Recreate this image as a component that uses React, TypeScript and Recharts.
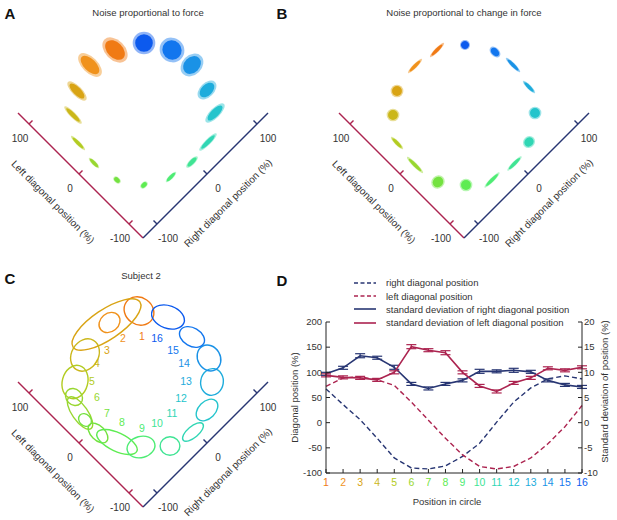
import React from 'react'
import {
  ScatterChart,
  Scatter,
  XAxis,
  YAxis,
  ReferenceLine,
  LineChart,
  Line,
  ErrorBar,
} from 'recharts'

const FONT = '"Liberation Sans", Arial, Helvetica, sans-serif'
const INK = '#333333'
const CRIMSON = '#ac2450'
const NAVY = '#283673'

// one colour per target position, orange -> yellow -> green -> cyan -> blue
const posColors = [
  '#f07a14', '#f0921c', '#d9a414', '#cbb71a', '#b3cc22', '#98d730', '#74e240', '#5eec52',
  '#4eec74', '#40e494', '#30d6b4', '#24c4cc', '#1eacdc', '#1a92e6', '#1276ee', '#0c5aee',
]

// A: noise proportional to force (centre and spread, diagonal %)
const forceRight = [32, -8, -47, -75, -98, -102, -96, -74, -39, -3, 33, 69, 84, 94, 89, 68]
const forceLeft = [88, 98, 85, 65, 32, -4, -44, -76, -95, -101, -97, -75, -44, -4, 31, 66]
const forceSdRight = [14, 11, 7, 4, 3, 3, 4, 6, 10, 11, 17, 18, 16, 18, 17, 16]
const forceSdLeft = [21, 21, 18, 17, 14, 10, 6, 4, 3, 4, 4, 7, 10, 14, 18, 16]

// B: noise proportional to change in force
const changeRight = [33, -5, -48, -76, -100, -104, -98, -73, -42, -3, 33, 68, 88, 94, 89, 66]
const changeLeft = [87, 93, 86, 66, 34, -6, -46, -77, -98, -104, -97, -74, -42, -4, 27, 64]
const changeSdRight = [14, 14, 9, 9, 3, 3, 10, 9, 15, 14, 9, 9, 3, 3, 6, 7]
const changeSdLeft = [3, 3, 9, 9, 12, 16, 9, 9, 3, 3, 8, 9, 12, 14, 9, 7]

// C: subject 2 confidence ellipses
const subjRight = [64, 23, 18, -34, -71, -87, -97, -99, -99, -89, -70, -40, -3, 33, 66, 87, 91, 87]
const subjLeft = [72, 90, 91, 82, 65, 51, 29, 17, -9, -37, -66, -94, -103, -95, -72, -45, -7, 37]
const subjMajor = [22, 16, 57, 24, 24, 13, 27, 10, 17, 31, 20, 14, 18, 18, 19, 19, 19, 24]
const subjMinor = [19, 13, 21, 19, 18, 11, 11, 8, 10, 13, 15, 13, 8, 12, 16, 16, 13, 16]
const subjAngle = [35, -40, -34, -60, -75, 45, 55, 45, 45, 25, -15, 0, -40, -45, -80, 60, 30, 20]
const subjColor = [0, 1, 2, 3, 4, 5, 5, 6, 6, 7, 8, 9, 10, 11, 12, 13, 14, 15]

// C: position numbers
const numRight = [42, 21, -7, -30, -53, -64, -70, -64, -50, -30, -5, 19, 41, 57, 59, 55]
const numLeft = [44, 61, 65, 62, 49, 28, 2, -22, -48, -58, -63, -57, -45, -25, -1, 27]

const diagTicks = [-100, 0, 100]
const AXIS_MIN = -128
const AXIS_MAX = 122

// D: mean positions and their standard deviations
const positions = ['1', '2', '3', '4', '5', '6', '7', '8', '9', '10', '11', '12', '13', '14', '15', '16']
const rightDiag = [67, 36, 6, -31, -70, -90, -92, -86, -67, -41, 1, 41, 69, 87, 93, 87]
const leftDiag = [72, 89, 91, 85, 74, 41, 5, -31, -64, -87, -92, -87, -70, -42, -8, 34]
const sdRight = [9.7, 10.9, 13.3, 12.9, 11.0, 7.7, 6.8, 7.7, 8.4, 10.2, 10.2, 10.4, 10.1, 8.4, 7.5, 7.1]
const sdLeft = [9.4, 9.0, 8.9, 8.5, 10.0, 15.1, 14.4, 13.9, 10.0, 7.3, 6.2, 7.9, 8.9, 10.8, 10.4, 11.0]
const sdRightErr = [0.3, 0.3, 0.4, 0.3, 0.4, 0.3, 0.3, 0.3, 0.3, 0.4, 0.3, 0.4, 0.3, 0.3, 0.3, 0.3]
const sdLeftErr = [0.3, 0.3, 0.3, 0.3, 0.3, 0.4, 0.3, 0.4, 0.3, 0.3, 0.3, 0.3, 0.3, 0.3, 0.3, 0.3]

const posTicks = [-100, -50, 0, 50, 100, 150, 200]
const sdTicks = [-10, -5, 0, 5, 10, 15, 20]

const legendItems = [
  { label: 'right diagonal position', color: NAVY, dash: '4 2.5' },
  { label: 'left diagonal position', color: CRIMSON, dash: '4 2.5' },
  { label: 'standard deviation of right diagonal position', color: NAVY, dash: undefined },
  { label: 'standard deviation of left diagonal position', color: CRIMSON, dash: undefined },
]

// diagonal (right, left) -> screen-aligned (u, v)
const uv = (r: number, l: number) => ({ u: r - l, v: r + l })
const pt = (r: number, l: number) => ({ x: r - l, y: r + l })

const textShape = (fontSize: number, rotate = 0, colorOf?: (p: any) => string) => (props: any) => {
  const { cx, cy, payload } = props
  return (
    <text
      x={cx}
      y={cy}
      dy="0.35em"
      textAnchor="middle"
      fontSize={fontSize}
      fontFamily={FONT}
      fill={colorOf ? colorOf(payload) : INK}
      transform={rotate ? `rotate(${rotate} ${cx} ${cy})` : undefined}
    >
      {payload.text}
    </text>
  )
}

// cloud of samples drawn as a filled ellipse along the two diagonal axes
const cloudShape = (k: number) => (props: any) => {
  const { cx, cy, payload } = props
  const color = posColors[payload.i]
  const rot = `rotate(-45 ${cx} ${cy})`
  return (
    <g>
      <ellipse cx={cx} cy={cy} rx={payload.sdR * k} ry={payload.sdL * k} fill={color} fillOpacity={0.45} transform={rot} />
      <ellipse cx={cx} cy={cy} rx={payload.sdR * k * 0.78} ry={payload.sdL * k * 0.78} fill={color} transform={rot} />
    </g>
  )
}

const ellipseShape = (k: number) => (props: any) => {
  const { cx, cy, payload } = props
  return (
    <ellipse
      cx={cx}
      cy={cy}
      rx={payload.a * k}
      ry={payload.b * k}
      fill="none"
      stroke={posColors[payload.c]}
      strokeWidth={1.4}
      transform={`rotate(${payload.angle} ${cx} ${cy})`}
    />
  )
}

// the two diagonal axes with ticks, tick labels and titles
function diagonalFrame(id: string) {
  const leftTickLabels = diagTicks.map((t) => ({ ...uv(-151, t - 5), text: String(t) }))
  const rightTickLabels = diagTicks.map((t) => ({ ...uv(t - 3, -153), text: String(t) }))
  return [
    <ReferenceLine key={id + 'la'} segment={[pt(AXIS_MIN, AXIS_MIN), pt(AXIS_MIN, AXIS_MAX)]} stroke={CRIMSON} strokeWidth={1.4} ifOverflow="visible" />,
    <ReferenceLine key={id + 'ra'} segment={[pt(AXIS_MIN, AXIS_MIN), pt(AXIS_MAX, AXIS_MIN)]} stroke={NAVY} strokeWidth={1.4} ifOverflow="visible" />,
    ...diagTicks.map((t) => (
      <ReferenceLine key={id + 'lt' + t} segment={[pt(AXIS_MIN, t), pt(AXIS_MIN + 7, t)]} stroke={CRIMSON} strokeWidth={1.4} ifOverflow="visible" />
    )),
    ...diagTicks.map((t) => (
      <ReferenceLine key={id + 'rt' + t} segment={[pt(t, AXIS_MIN), pt(t, AXIS_MIN + 7)]} stroke={NAVY} strokeWidth={1.4} ifOverflow="visible" />
    )),
    <Scatter key={id + 'ltl'} data={leftTickLabels} dataKey="v" shape={textShape(10)} isAnimationActive={false} />,
    <Scatter key={id + 'rtl'} data={rightTickLabels} dataKey="v" shape={textShape(10)} isAnimationActive={false} />,
    <Scatter key={id + 'lti'} data={[{ ...uv(-182, -2), text: 'Left diagonal position (%)' }]} dataKey="v" shape={textShape(10, 45)} isAnimationActive={false} />,
    <Scatter key={id + 'rti'} data={[{ ...uv(-8, -178), text: 'Right diagonal position (%)' }]} dataKey="v" shape={textShape(10, -45)} isAnimationActive={false} />,
  ]
}

function DiagonalChart({ width, height, originX, originY, children }: any) {
  const uDomain = [-2 * originX, 2 * (width - originX)]
  const vDomain = [2 * (originY - height), 2 * originY]
  return (
    <ScatterChart width={width} height={height} margin={{ top: 0, right: 0, bottom: 0, left: 0 }}>
      <XAxis type="number" dataKey="u" domain={uDomain} hide allowDataOverflow />
      <YAxis type="number" dataKey="v" domain={vDomain} hide allowDataOverflow />
      {children}
    </ScatterChart>
  )
}

// pixels per diagonal % unit (0.5 px per u unit, rotated 45 degrees)
const K = 0.5 * Math.SQRT2

const forceData = forceRight.map((r, i) => ({ ...uv(r, forceLeft[i]), sdR: forceSdRight[i], sdL: forceSdLeft[i], i }))
const changeData = changeRight.map((r, i) => ({ ...uv(r, changeLeft[i]), sdR: changeSdRight[i], sdL: changeSdLeft[i], i }))
const subjData = subjRight.map((r, i) => ({
  ...uv(r, subjLeft[i]),
  a: subjMajor[i],
  b: subjMinor[i],
  angle: subjAngle[i],
  c: subjColor[i],
}))
const numData = numRight.map((r, i) => ({ ...uv(r, numLeft[i]), text: String(i + 1), i }))

const lineData = positions.map((p, i) => ({
  pos: p,
  right: rightDiag[i],
  left: leftDiag[i],
  sdR: sdRight[i],
  sdL: sdLeft[i],
  sdRErr: sdRightErr[i],
  sdLErr: sdLeftErr[i],
}))

const LeftTick = ({ x, y, payload }: any) => (
  <g>
    <line x1={x + 4} x2={x + 8} y1={y} y2={y} stroke="#222" />
    <text x={x} y={y} dy="0.35em" textAnchor="end" fontSize={9.5} fontFamily={FONT} fill={INK}>
      {payload.value}
    </text>
  </g>
)

const RightTick = ({ x, y, payload }: any) => (
  <g>
    <line x1={x - 2} x2={x - 6} y1={y} y2={y} stroke="#222" />
    <text x={x} y={y} dy="0.35em" textAnchor="start" fontSize={9.5} fontFamily={FONT} fill={INK}>
      {payload.value}
    </text>
  </g>
)

const BottomTick = ({ x, y, payload, index }: any) => (
  <g>
    <line x1={x} x2={x} y1={y - 5} y2={y - 9} stroke="#222" />
    <text x={x} y={y} dy="0.8em" textAnchor="middle" fontSize={10.5} fontFamily={FONT} fill={posColors[index]}>
      {payload.value}
    </text>
  </g>
)

const axisTitle = (text: string, dx: number, dyPx: number, rotate: number, vertical: boolean) => (props: any) => {
  const vb = props.viewBox
  const x = vertical ? vb.x + dx : vb.x + vb.width / 2 + dx
  const y = vertical ? vb.y + vb.height / 2 + dyPx : vb.y + dyPx
  return (
    <text
      x={x}
      y={y}
      dy="0.35em"
      textAnchor="middle"
      fontSize={9.5}
      fontFamily={FONT}
      fill={INK}
      transform={rotate ? `rotate(${rotate} ${x} ${y})` : undefined}
    >
      {text}
    </text>
  )
}

const abs = (left: number, top: number): React.CSSProperties => ({ position: 'absolute', left, top })

function Caption({ x, y, text, bold }: { x: number; y: number; text: string; bold?: boolean }) {
  return (
    <div
      style={{
        position: 'absolute',
        left: x,
        top: y,
        transform: 'translate(-50%, -50%)',
        whiteSpace: 'nowrap',
        fontSize: bold ? 15 : 9.5,
        fontWeight: bold ? 700 : 400,
        color: bold ? '#111' : INK,
        lineHeight: 1,
      }}
    >
      {text}
    </div>
  )
}

export default function App() {
  return (
    <div style={{ position: 'absolute', left: 0, top: 0, width: 617, height: 520, background: '#fff', fontFamily: FONT, overflow: 'hidden' }}>
      <Caption x={10} y={13} text="A" bold />
      <Caption x={282} y={13} text="B" bold />
      <Caption x={10} y={278} text="C" bold />
      <Caption x={282} y={280} text="D" bold />
      <Caption x={148} y={13} text="Noise proportional to force" />
      <Caption x={464} y={13} text="Noise proportional to change in force" />
      <Caption x={141} y={276} text="Subject 2" />

      <div style={abs(0, 0)}>
        <DiagonalChart width={300} height={255} originX={143} originY={110}>
          {diagonalFrame('a')}
          <Scatter data={forceData} dataKey="v" shape={cloudShape(K)} isAnimationActive={false} />
        </DiagonalChart>
      </div>

      <div style={abs(300, 0)}>
        <DiagonalChart width={317} height={255} originX={164} originY={110}>
          {diagonalFrame('b')}
          <Scatter data={changeData} dataKey="v" shape={cloudShape(K)} isAnimationActive={false} />
        </DiagonalChart>
      </div>

      <div style={abs(0, 260)}>
        <DiagonalChart width={282} height={260} originX={143} originY={119}>
          {diagonalFrame('c')}
          <Scatter data={subjData} dataKey="v" shape={ellipseShape(K)} isAnimationActive={false} />
          <Scatter data={numData} dataKey="v" shape={textShape(10.5, 0, (p) => posColors[p.i])} isAnimationActive={false} />
        </DiagonalChart>
      </div>

      <div style={abs(280, 265)}>
        <LineChart width={337} height={255} data={lineData} margin={{ top: 57, right: 0, bottom: 17, left: 0 }}>
          <XAxis
            dataKey="pos"
            height={30}
            stroke="#222"
            tickSize={0}
            tickMargin={5}
            tickLine={false}
            tick={<BottomTick />}
            interval={0}
            label={{ content: axisTitle('Position in circle', -7, 29, 0, false) }}
          />
          <YAxis
            yAxisId="pos"
            width={46}
            domain={[-100, 200]}
            ticks={posTicks}
            stroke="#222"
            tickSize={0}
            tickMargin={4}
            tickLine={false}
            tick={<LeftTick />}
            allowDataOverflow
            label={{ content: axisTitle('Diagonal position (%)', 15, 0, -90, true) }}
          />
          <YAxis
            yAxisId="sd"
            orientation="right"
            width={35}
            domain={[-10, 20]}
            ticks={sdTicks}
            stroke="#222"
            tickSize={0}
            tickMargin={2}
            tickLine={false}
            tick={<RightTick />}
            allowDataOverflow
            label={{ content: axisTitle('Standard deviation of position (%)', 23, -6, -90, true) }}
          />
          <Line yAxisId="pos" dataKey="right" stroke={NAVY} strokeWidth={1.4} strokeDasharray="5 3" dot={false} isAnimationActive={false} />
          <Line yAxisId="pos" dataKey="left" stroke={CRIMSON} strokeWidth={1.4} strokeDasharray="5 3" dot={false} isAnimationActive={false} />
          <Line yAxisId="sd" dataKey="sdR" stroke={NAVY} strokeWidth={1.6} dot={false} isAnimationActive={false}>
            <ErrorBar dataKey="sdRErr" width={5} stroke={NAVY} strokeWidth={1.2} direction="y" />
          </Line>
          <Line yAxisId="sd" dataKey="sdL" stroke={CRIMSON} strokeWidth={1.6} dot={false} isAnimationActive={false}>
            <ErrorBar dataKey="sdLErr" width={5} stroke={CRIMSON} strokeWidth={1.2} direction="y" />
          </Line>
        </LineChart>
      </div>

      <div style={{ position: 'absolute', left: 354, top: 276 }}>
        {legendItems.map((item) => (
          <div key={item.label} style={{ display: 'flex', alignItems: 'center', height: 13.4 }}>
            <svg width={22} height={6} style={{ marginRight: 10 }}>
              <line x1={0} x2={22} y1={3} y2={3} stroke={item.color} strokeWidth={1.6} strokeDasharray={item.dash} />
            </svg>
            <span style={{ fontSize: 9.5, color: INK, whiteSpace: 'nowrap' }}>{item.label}</span>
          </div>
        ))}
      </div>
    </div>
  )
}
